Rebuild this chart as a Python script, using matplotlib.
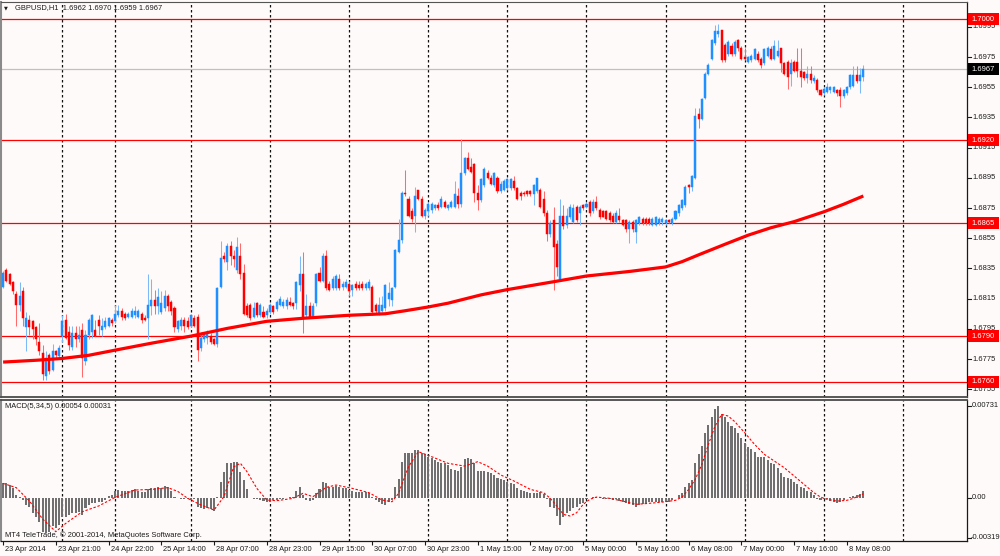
import matplotlib
matplotlib.use("Agg")
import matplotlib.pyplot as plt
import matplotlib.transforms as mtransforms
from matplotlib.patches import Rectangle
import numpy as np

plt.rcParams["font.family"] = ["Liberation Sans", "DejaVu Sans"]

# ---------------------------------------------------------------------------
# Data (prices stored as pips above BASE_PRICE, MACD stored in 1e-5 units)
# ---------------------------------------------------------------------------
SYMBOL = "GBPUSD,H1"
BASE_PRICE = 1.6700

open_pips = [
    123, 134, 131, 126, 118, 111, 120, 96, 101, 100,
    96, 86, 79, 64, 78, 68, 80, 77, 90, 101,
    93, 83, 92, 88, 94, 74, 91, 93, 94, 101,
    94, 96, 97, 101, 100, 104, 107, 105, 103, 103,
    104, 103, 105, 102, 102, 110, 114, 110, 106, 109,
    117, 113, 109, 95, 97, 101, 100, 97, 102, 103,
    82, 88, 89, 90, 88, 85, 123, 143, 139, 150,
    143, 134, 143, 132, 110, 111, 103, 112, 104, 106,
    104, 106, 110, 108, 111, 110, 110, 113, 112, 112,
    124, 131, 104, 110, 103, 112, 132, 127, 143, 125,
    122, 122, 128, 123, 123, 125, 121, 125, 124, 125,
    122, 122, 123, 111, 105, 107, 109, 115, 114, 123,
    146, 154, 185, 181, 173, 170, 187, 181, 170, 173,
    174, 175, 177, 176, 179, 175, 176, 176, 183, 178,
    198, 208, 202, 204, 185, 180, 190, 198, 195, 190,
    195, 186, 187, 188, 188, 193, 188, 185, 185, 186,
    186, 184, 186, 187, 181, 172, 158, 167, 151, 128,
    170, 164, 169, 166, 176, 172, 177, 176, 179, 173,
    179, 174, 173, 173, 172, 170, 166, 170, 167, 167,
    161, 166, 159, 165, 168, 168, 168, 164, 164, 165,
    166, 165, 167, 165, 168, 172, 175, 177, 190, 189,
    195, 237, 234, 248, 264, 274, 284, 290, 293, 283,
    277, 282, 277, 286, 281, 275, 272, 273, 274, 277,
    274, 271, 276, 280, 274, 276, 281, 271, 272, 264,
    272, 272, 266, 265, 261, 264, 259, 260, 253, 251,
    252, 253, 252, 253, 253, 249, 251, 255, 256, 263,
    259, 262,
]
high_pips = [
    133, 135, 132, 127, 120, 126, 123, 106, 104, 101,
    97, 99, 84, 80, 79, 85, 81, 84, 104, 105,
    97, 97, 97, 97, 99, 94, 102, 105, 101, 104,
    102, 103, 103, 102, 111, 111, 109, 106, 106, 109,
    110, 108, 106, 104, 131, 128, 121, 122, 120, 121,
    118, 114, 110, 101, 103, 103, 103, 105, 104, 105,
    93, 93, 94, 92, 89, 123, 153, 146, 152, 153,
    147, 156, 152, 138, 112, 112, 113, 113, 112, 110,
    109, 112, 111, 114, 117, 115, 116, 116, 113, 127,
    143, 146, 118, 113, 112, 132, 136, 145, 147, 127,
    130, 131, 131, 127, 128, 127, 125, 127, 127, 127,
    126, 128, 124, 112, 116, 117, 125, 126, 123, 148,
    168, 186, 200, 183, 175, 189, 187, 183, 175, 179,
    179, 178, 179, 183, 180, 178, 180, 193, 188, 221,
    209, 212, 208, 205, 190, 195, 202, 200, 197, 199,
    196, 193, 194, 195, 195, 196, 189, 186, 186, 187,
    187, 191, 195, 188, 186, 174, 167, 176, 154, 181,
    177, 175, 178, 178, 177, 177, 178, 179, 180, 181,
    183, 175, 174, 174, 173, 172, 174, 175, 168, 168,
    167, 167, 168, 170, 169, 169, 169, 169, 170, 169,
    169, 168, 168, 169, 174, 178, 181, 190, 191, 197,
    241, 241, 248, 265, 271, 287, 296, 297, 293, 284,
    286, 284, 286, 287, 282, 281, 276, 277, 281, 279,
    275, 281, 282, 282, 286, 286, 281, 272, 273, 274,
    273, 281, 281, 266, 269, 269, 263, 261, 254, 255,
    258, 256, 256, 254, 255, 254, 256, 264, 269, 269,
    268, 270,
]
low_pips = [
    122, 126, 124, 118, 97, 107, 97, 80, 91, 88,
    84, 78, 61, 61, 65, 67, 76, 76, 86, 88,
    81, 81, 83, 86, 63, 71, 88, 89, 90, 91,
    90, 95, 96, 97, 99, 103, 101, 101, 102, 102,
    102, 102, 99, 100, 88, 104, 105, 105, 105, 107,
    107, 104, 93, 93, 94, 93, 95, 96, 96, 74,
    80, 86, 85, 85, 84, 83, 122, 139, 134, 137,
    136, 132, 128, 104, 103, 101, 102, 103, 103, 102,
    102, 105, 105, 107, 110, 109, 108, 110, 108, 108,
    120, 92, 102, 102, 102, 110, 126, 126, 121, 120,
    121, 121, 121, 121, 122, 117, 117, 121, 121, 121,
    121, 121, 104, 105, 104, 106, 107, 110, 110, 122,
    145, 152, 183, 169, 166, 159, 180, 169, 168, 170,
    172, 174, 174, 175, 175, 174, 175, 175, 175, 176,
    197, 200, 198, 179, 174, 179, 189, 194, 190, 189,
    185, 185, 186, 187, 187, 187, 180, 180, 183, 183,
    183, 177, 185, 175, 170, 153, 156, 121, 130, 127,
    161, 162, 168, 165, 166, 164, 174, 175, 170, 172,
    174, 168, 169, 167, 166, 165, 165, 166, 163, 159,
    152, 159, 152, 164, 164, 164, 164, 163, 163, 164,
    164, 164, 165, 164, 167, 170, 174, 176, 185, 186,
    194, 228, 233, 247, 263, 273, 283, 288, 272, 272,
    276, 276, 276, 279, 273, 273, 271, 272, 273, 272,
    268, 270, 275, 273, 273, 275, 265, 263, 254, 256,
    265, 262, 255, 260, 258, 258, 258, 252, 249, 250,
    251, 251, 251, 249, 242, 248, 250, 254, 255, 258,
    251, 259,
]
close_pips = [
    132, 127, 125, 120, 111, 117, 102, 102, 96, 95,
    88, 80, 65, 76, 67, 80, 78, 82, 100, 89,
    84, 92, 88, 91, 76, 91, 101, 104, 90, 97,
    97, 100, 102, 99, 105, 107, 103, 102, 105, 107,
    107, 107, 101, 101, 111, 114, 110, 116, 112, 117,
    110, 107, 96, 100, 101, 97, 96, 104, 97, 81,
    89, 92, 93, 86, 85, 122, 142, 141, 150, 143,
    141, 149, 131, 105, 104, 102, 109, 104, 111, 103,
    107, 111, 106, 113, 115, 113, 114, 111, 110, 126,
    131, 102, 110, 103, 110, 131, 127, 143, 122, 121,
    128, 130, 122, 125, 126, 120, 124, 122, 122, 122,
    125, 126, 106, 107, 111, 111, 124, 119, 122, 147,
    154, 185, 184, 170, 168, 183, 181, 170, 174, 178,
    178, 177, 175, 181, 176, 177, 179, 184, 178, 198,
    208, 201, 199, 185, 180, 194, 201, 195, 191, 198,
    186, 191, 193, 194, 194, 188, 181, 183, 184, 184,
    184, 190, 195, 176, 172, 158, 165, 149, 136, 170,
    163, 170, 176, 175, 167, 176, 175, 178, 172, 179,
    175, 169, 169, 168, 167, 166, 172, 167, 164, 161,
    166, 161, 167, 169, 165, 165, 165, 168, 169, 168,
    168, 167, 166, 168, 173, 177, 180, 189, 189, 196,
    236, 234, 247, 264, 270, 286, 292, 292, 273, 273,
    285, 277, 285, 281, 274, 274, 275, 276, 280, 273,
    270, 280, 281, 274, 282, 279, 271, 264, 262, 271,
    266, 266, 262, 261, 264, 260, 261, 253, 250, 254,
    255, 255, 255, 251, 249, 253, 255, 263, 263, 259,
    263, 267,
]

# moving average, read at a few bars along the red curve
ma_bars = [0, 10, 18, 26, 34, 45, 57, 68, 80, 91, 105, 116, 122, 129, 135,
           145, 153, 167, 177, 190, 201, 206, 211, 219, 226, 233, 240, 249,
           255, 261]
ma_pips = [73, 74.2, 75.4, 77.5, 80.9, 85.5, 90.2, 95.3, 100, 102, 104, 105,
           107, 109.5, 112, 117.5, 121, 126.2, 130, 133, 136, 139.5, 144, 151,
           157, 162, 166, 172.5, 177.5, 183]

macd_e5 = [
    114, 114, 101, 74, 21, 8, -19, -58, -72, -125,
    -151, -191, -271, -279, -271, -226, -244, -218, -151, -151,
    -138, -125, -125, -112, -138, -85, -58, -45, -45, -32,
    -32, -19, 16, 21, 56, 61, 56, 56, 56, 61,
    66, 56, 48, 48, 66, 80, 74, 82, 80, 93,
    82, 56, 8, -5, -11, -11, -11, -19, -11, -72,
    -85, -90, -85, -93, -104, 5, 128, 207, 274, 279,
    287, 287, 207, 141, 66, -5, -11, -11, -19, -27,
    -32, -32, -19, -19, -13, -8, -5, 3, 8, 56,
    88, 21, -19, -24, -19, 35, 66, 128, 114, 82,
    82, 93, 82, 74, 74, 61, 56, 48, 48, 43,
    43, 40, 3, -19, -32, -50, -58, -32, -19, 82,
    146, 287, 353, 359, 359, 380, 380, 353, 345, 327,
    314, 300, 287, 279, 274, 260, 226, 221, 215, 247,
    306, 314, 306, 274, 215, 215, 215, 207, 194, 181,
    154, 146, 141, 128, 120, 109, 74, 61, 56, 48,
    40, 35, 40, 48, 27, -13, -72, -85, -146, -218,
    -151, -125, -104, -85, -72, -50, -40, -13, -5, 3,
    8, 0, -8, -11, -11, -19, -13, -24, -32, -40,
    -50, -58, -72, -58, -50, -40, -35, -35, -35, -32,
    -32, -32, -32, -19, 0, 21, 40, 82, 114, 141,
    274, 348, 412, 513, 579, 646, 704, 731, 667, 646,
    606, 571, 553, 513, 473, 433, 407, 385, 367, 327,
    321, 321, 300, 279, 268, 234, 194, 162, 154, 146,
    128, 109, 82, 74, 56, 48, 21, -13, -19, -13,
    -13, -24, -32, -40, -32, -19, -5, 8, 13, 21,
    29, 54,
]

signal_bars = [0, 4, 8, 12, 16, 19, 24, 29, 34, 40, 45, 50, 53, 56, 60, 64,
               67, 70, 72, 74, 77, 80, 83, 88, 91, 94, 98, 101, 106, 111, 115,
               118, 120, 123, 126, 130, 135, 140, 144, 147, 151, 155, 160, 164,
               166, 168, 170, 172, 174, 176, 178, 180, 184, 188, 192, 196, 200,
               204, 206, 208, 210, 212, 214, 216, 218, 220, 222, 225, 228, 231,
               234, 237, 240, 243, 246, 248, 250, 253, 256, 258, 261]
signal_e5 = [114, 80, -27, -170, -271, -205, -112, -66, 3, 61, 66, 80, 50, -5,
             -58, -98, 8, 247, 274, 207, 74, -19, -24, -5, 35, 8, 82, 101, 74,
             40, -19, -32, 35, 247, 367, 327, 274, 252, 287, 252, 181, 133, 66,
             40, -5, -66, -133, -146, -120, -53, -13, 5, -5, -27, -53, -45,
             -35, -21, 5, 66, 146, 266, 425, 571, 664, 651, 606, 518, 425, 345,
             292, 239, 173, 106, 40, 5, -13, -27, -21, -5, 31]

level_prices = [1.7000, 1.6920, 1.6865, 1.6790, 1.6760]
bid_price = 1.6967
price_ticks = [1.6995, 1.6975, 1.6955, 1.6935, 1.6915, 1.6895, 1.6875,
               1.6855, 1.6835, 1.6815, 1.6795, 1.6775, 1.6755]
macd_ticks = [0.00731, 0.0, -0.00319]
macd_tick_labels = ["0.00731", "0.00", "-0.00319"]

time_tick_bars = [0, 16, 32, 48, 64, 80, 96, 112, 128, 144, 160, 176, 192,
                  208, 224, 240, 256]
time_tick_labels = ["23 Apr 2014", "23 Apr 21:00", "24 Apr 22:00",
                    "25 Apr 14:00", "28 Apr 07:00", "28 Apr 23:00",
                    "29 Apr 15:00", "30 Apr 07:00", "30 Apr 23:00",
                    "1 May 15:00", "2 May 07:00", "5 May 00:00",
                    "5 May 16:00", "6 May 08:00", "7 May 00:00",
                    "7 May 16:00", "8 May 08:00"]
day_start_bars = [18, 34, 57, 81, 105, 129, 153, 177, 201, 225, 249, 273]

# ---------------------------------------------------------------------------
# Style / layout (pixels of a 1000x556 canvas)
# ---------------------------------------------------------------------------
W, H = 1000, 556
BG = "#FFFAFA"
BULL = "#1E90FF"
BEAR = "#FF0000"
FS = 5.4

BAR_PX = 3.296        # horizontal distance between bars
BAR0_X = 3.1          # pixel x of the first bar
PLOT_X0, PLOT_X1 = 1, 967
MAIN_Y0, MAIN_Y1 = 2, 397
MACD_Y0, MACD_Y1 = 400, 540.5
PRICE_REF_Y, PRICE_REF = 19.3, 1.7000   # 1.7000 sits at y=19.3 px
PX_PER_PRICE = 15100.0
MACD_ZERO_Y, PX_PER_MACD = 497.7, 12545.0


def px_box(x0, y0, x1, y1):
    return [x0 / W, 1 - y1 / H, (x1 - x0) / W, (y1 - y0) / H]


o = BASE_PRICE + np.array(open_pips) / 1e4
hi = BASE_PRICE + np.array(high_pips) / 1e4
lo = BASE_PRICE + np.array(low_pips) / 1e4
c = BASE_PRICE + np.array(close_pips) / 1e4
macd = np.array(macd_e5) / 1e5
signal = np.array(signal_e5) / 1e5
ma = BASE_PRICE + np.array(ma_pips) / 1e4
idx = np.arange(len(c))

fig = plt.figure(figsize=(W / 100, H / 100), dpi=100, facecolor=BG)
ax = fig.add_axes(px_box(PLOT_X0, MAIN_Y0, PLOT_X1, MAIN_Y1), facecolor=BG)
axm = fig.add_axes(px_box(PLOT_X0, MACD_Y0, PLOT_X1, MACD_Y1), facecolor=BG)

xlim = ((PLOT_X0 - BAR0_X) / BAR_PX, (PLOT_X1 - BAR0_X) / BAR_PX)
for a in (ax, axm):
    a.set_xlim(*xlim)
ax.set_ylim(PRICE_REF - (MAIN_Y1 - PRICE_REF_Y) / PX_PER_PRICE,
            PRICE_REF + (PRICE_REF_Y - MAIN_Y0) / PX_PER_PRICE)
axm.set_ylim(-(MACD_Y1 - MACD_ZERO_Y) / PX_PER_MACD,
             (MACD_ZERO_Y - MACD_Y0) / PX_PER_MACD)

# --- day separators ---
for a in (ax, axm):
    for b in day_start_bars:
        a.axvline(b, color="#111111", lw=0.9, ls=(0, (2, 2)), zorder=1)

# --- level lines ---
for p in level_prices:
    ax.axhline(p, color="#FF0000", lw=0.9, zorder=2)
ax.axhline(bid_price, color="#C0C0C0", lw=0.9, zorder=2)

# --- candles ---
up = c >= o
body_col = np.where(up, BULL, BEAR)
wick_col = np.where(up, "#7CB9F7", "#FF6A6A")
ax.vlines(idx, lo, hi, colors=wick_col, lw=0.75, zorder=3)
ax.bar(idx, np.abs(c - o), bottom=np.minimum(o, c), width=0.62,
       color=body_col, edgecolor=body_col, linewidth=0.35, zorder=4)

# --- moving average ---
ax.plot(ma_bars, ma, color="#FF0000", lw=2.3, solid_capstyle="butt", zorder=5)

# --- MACD ---
axm.bar(idx, macd, width=0.62, color="#707070", linewidth=0, zorder=3)
axm.plot(signal_bars, signal, color="#FF0000", lw=0.8, ls=(0, (2.2, 1.6)),
         zorder=4)

# --- frames ---
for a in (ax, axm):
    a.set_yticks([])
    a.spines["left"].set_color("#8A8A8A")
    a.spines["left"].set_linewidth(1.5)
    a.spines["right"].set_color("#1a1a1a")
    a.spines["right"].set_linewidth(0.9)
ax.set_xticks([])
ax.spines["top"].set_color("#555555")
ax.spines["top"].set_linewidth(0.8)
ax.spines["bottom"].set_color("#4a4a4a")
ax.spines["bottom"].set_linewidth(1.3)
axm.spines["top"].set_color("#4a4a4a")
axm.spines["top"].set_linewidth(1.3)
axm.spines["bottom"].set_color("#1a1a1a")
axm.spines["bottom"].set_linewidth(0.9)

# --- time axis ---
axm.set_xticks(time_tick_bars)
axm.set_xticklabels(time_tick_labels, ha="left")
axm.tick_params(axis="x", length=3, width=0.8, pad=1.2, labelsize=FS,
                colors="#1a1a1a")
shift = mtransforms.ScaledTranslation(2 / 100, 0, fig.dpi_scale_trans)
for lbl in axm.get_xticklabels():
    lbl.set_transform(lbl.get_transform() + shift)

# --- price scale on the right ---
blend = mtransforms.blended_transform_factory(fig.transFigure, ax.transData)
for t in price_ticks:
    ax.plot([968 / W, 971 / W], [t, t], transform=blend, color="#1a1a1a",
            lw=0.8, clip_on=False)
    ax.text(972 / W, t, f"{t:.4f}", transform=blend, fontsize=FS,
            va="center", ha="left", color="#1a1a1a", clip_on=False)

box_h = 12 / PX_PER_PRICE
for p, fc in [(lv, "#FF0000") for lv in level_prices] + [(bid_price, "#000000")]:
    ax.add_patch(Rectangle((968 / W, p - box_h / 2), 31 / W, box_h,
                           transform=blend, facecolor=fc, edgecolor="none",
                           clip_on=False, zorder=10))
    ax.text(971.5 / W, p, f"{p:.4f}", transform=blend, fontsize=FS,
            va="center", ha="left", color="white", clip_on=False, zorder=11)

blend_m = mtransforms.blended_transform_factory(fig.transFigure, axm.transData)
for t, s in zip(macd_ticks, macd_tick_labels):
    axm.plot([968 / W, 971 / W], [t, t], transform=blend_m, color="#1a1a1a",
             lw=0.8, clip_on=False)
    axm.text(971 / W if t < 0 else 972 / W, t, s, transform=blend_m,
             fontsize=FS, va="center", ha="left", color="#1a1a1a",
             clip_on=False)

# --- captions ---
fig.text(4 / W, 1 - 8 / H, "\u25bc", fontsize=3.6, va="center", ha="left",
         color="#1a1a1a", family=["DejaVu Sans"])
fig.text(15 / W, 1 - 8 / H,
         f"{SYMBOL}  {o[-1]:.4f} {hi[-1]:.4f} {lo[-1]:.4f} {c[-1]:.4f}",
         fontsize=FS, va="center", ha="left", color="#1a1a1a")
fig.text(5 / W, 1 - 407 / H,
         f"MACD(5,34,5) {macd[-1]:.5f} {signal[-1]:.5f}",
         fontsize=FS, va="center", ha="left", color="#1a1a1a")
fig.text(5 / W, 1 - 535 / H,
         "MT4 TeleTrade, \u00a9 2001-2014, MetaQuotes Software Corp.",
         fontsize=FS, va="center", ha="left", color="#1a1a1a")

fig.savefig("out.png", dpi=100, facecolor=BG)
